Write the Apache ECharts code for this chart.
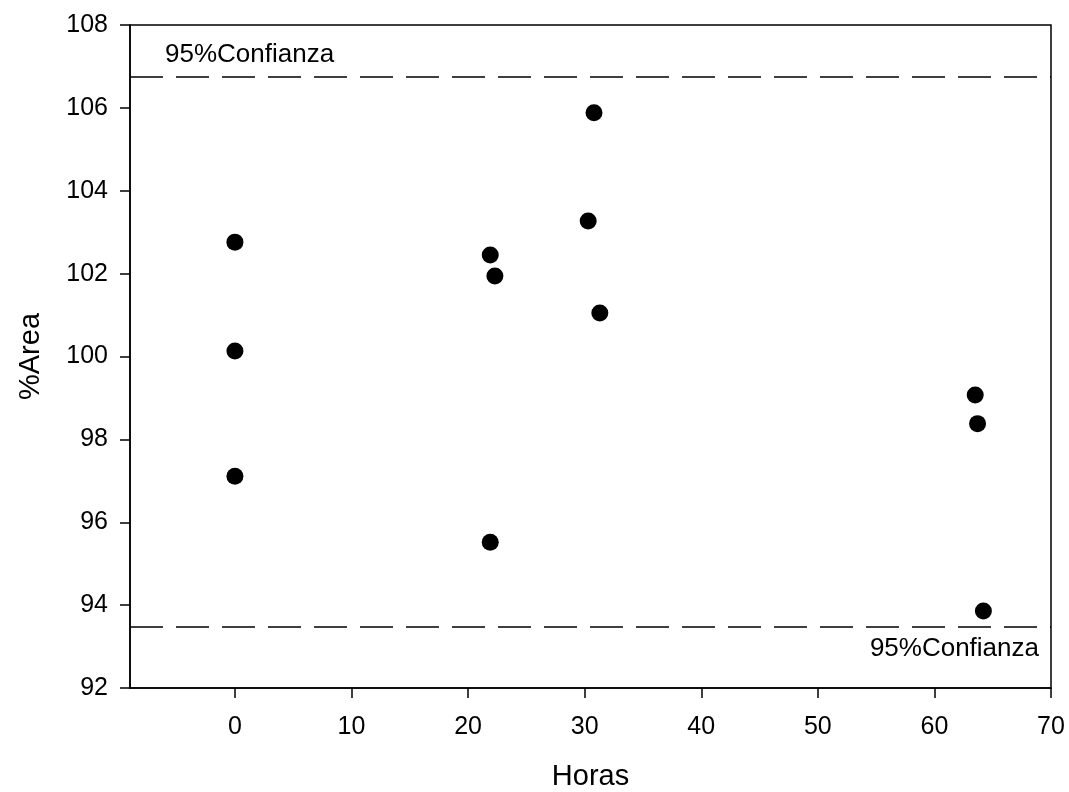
<!DOCTYPE html>
<html>
<head>
<meta charset="utf-8">
<script src="https://cdn.jsdelivr.net/npm/echarts@6/dist/echarts.min.js"></script>
<style>html,body{margin:0;padding:0;background:#fff;}#c{width:1069px;height:792px;}</style>
</head>
<body>
<div id="c"></div>
<script>
const horas = [0, 0, 0, 21.9, 22.3, 21.9, 30.3, 30.8, 31.3, 63.5, 63.7, 64.2];
const area = [102.76, 100.13, 97.11, 102.45, 101.94, 95.52, 103.27, 105.88, 101.05, 99.07, 98.38, 93.86];
const xTicks = [0, 10, 20, 30, 40, 50, 60, 70];
const confUpper = 106.75;
const confLower = 93.48;
const confLabel = '95%Confianza';
const xTitle = 'Horas';
const yTitle = '%Area';

const points = horas.map((h, i) => [h, area[i]]);
const font = 'Liberation Sans, Arial, sans-serif';
const chart = echarts.init(document.getElementById('c'));
chart.setOption({
  animation: false,
  backgroundColor: '#fff',
  grid: {left: 130, right: 18, top: 25, bottom: 104, containLabel: false, outerBoundsMode: 'none', show: true, borderColor: '#000', borderWidth: 1.5},
  xAxis: {
    type: 'value', min: -9, max: 70,
    name: xTitle, nameLocation: 'middle', nameGap: 74,
    nameTextStyle: {fontFamily: font, fontSize: 29, color: '#000'},
    axisLine: {show: true, onZero: false, lineStyle: {color: '#000', width: 1.5}},
    axisTick: {show: true, length: 10, inside: false, customValues: xTicks, lineStyle: {color: '#000', width: 1.5}},
    axisLabel: {fontFamily: font, fontSize: 25, color: '#000', margin: 27, customValues: xTicks},
    splitLine: {show: false}
  },
  yAxis: {
    type: 'value', min: 92, max: 108, interval: 2,
    name: yTitle, nameLocation: 'middle', nameGap: 85, nameRotate: 90,
    nameTextStyle: {fontFamily: font, fontSize: 29, color: '#000'},
    axisLine: {show: true, onZero: false, lineStyle: {color: '#000', width: 1.5}},
    axisTick: {show: true, length: 10, inside: false, lineStyle: {color: '#000', width: 1.5}},
    axisLabel: {fontFamily: font, fontSize: 25, color: '#000', margin: 22},
    splitLine: {show: false}
  },
  series: [{
    type: 'scatter',
    data: points,
    symbol: 'circle',
    symbolSize: 17,
    itemStyle: {color: '#000', opacity: 1},
    markLine: {
      silent: true,
      symbol: ['none', 'none'],
      lineStyle: {color: '#000', width: 1.5, type: [33, 13]},
      data: [
        {yAxis: confUpper, label: {show: true, formatter: confLabel, position: 'insideStartTop', distance: [35, 9], fontFamily: font, fontSize: 26, color: '#000'}},
        {yAxis: confLower, label: {show: true, formatter: confLabel, position: 'insideEndBottom', distance: [12, 9], fontFamily: font, fontSize: 26, color: '#000'}}
      ]
    }
  }]
});
</script>
</body>
</html>
